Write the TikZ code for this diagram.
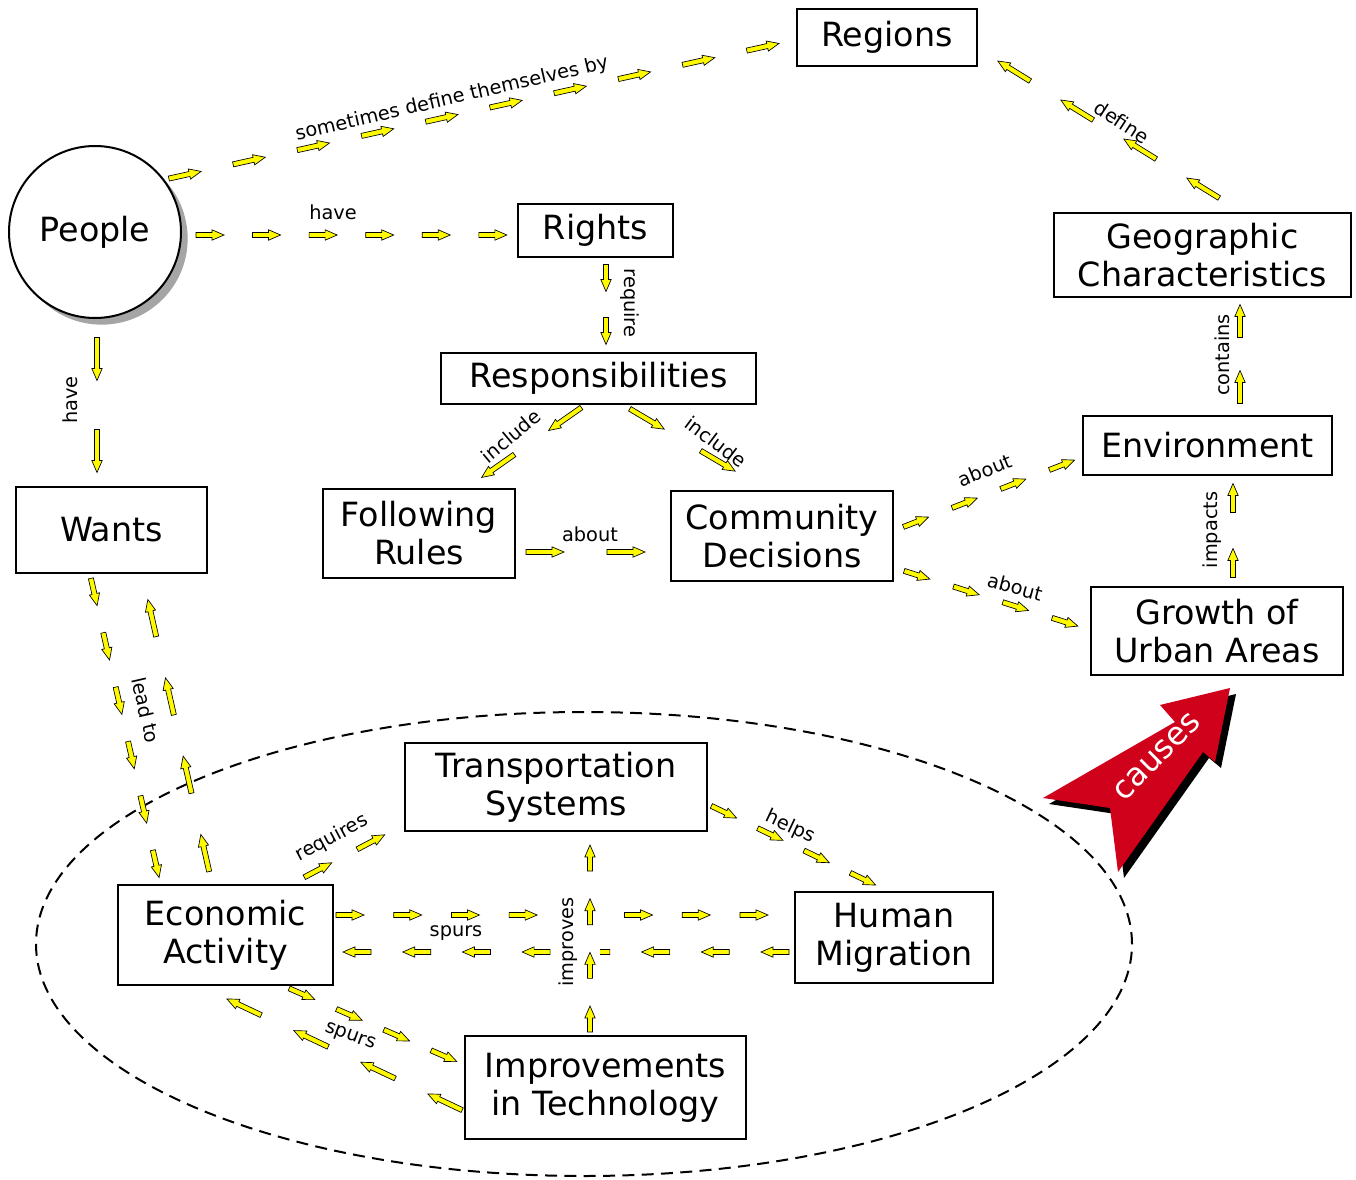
\documentclass[tikz,border=0pt]{standalone}
\usepackage{fontspec}
\setmainfont{DejaVu Sans}
\usetikzlibrary{decorations.markings,calc,shadows}
\definecolor{yel}{RGB}{255,250,0}
\definecolor{causered}{RGB}{208,2,27}
\definecolor{shadowgray}{RGB}{165,165,165}
\newcommand\yglyph[1]{%
  \filldraw[fill=yel,draw=black,line width=0.5pt,line join=miter]
   ({-#1*0.375pt},-1.9pt) -- ({#1*0.375pt-9pt},-1.9pt) -- ({#1*0.375pt-9pt},-3.9pt)
   -- ({#1*0.375pt},0pt) -- ({#1*0.375pt-9pt},3.9pt) -- ({#1*0.375pt-9pt},1.9pt)
   -- ({-#1*0.375pt},1.9pt) -- cycle;}
\tikzset{
  chain/.style 2 args={decoration={markings, mark=between positions 0 and 1 step #1 with {\yglyph{#2}}}, decorate},
  box/.style={draw=black, line width=1.5pt, fill=white, inner sep=0pt, align=center,
    font=\fontsize{25}{28.5}\selectfont},
  sz/.style 2 args={minimum width=#1*0.75pt, minimum height=#2*0.75pt},
  lbl/.style={inner sep=0pt, font=\fontsize{14.5}{16}\selectfont},
}
\begin{document}
\begin{tikzpicture}[x=0.75pt,y=-0.75pt]
\useasboundingbox (0,0) rectangle (1356,1180);
% dashed ellipse
\draw[line width=1.5pt, dash pattern=on 9pt off 5.5pt] (584,944) ellipse [x radius=411pt, y radius=174pt];
% nodes
\node[circle, draw=black, line width=1.5pt, fill=white, minimum size=172*0.75pt, inner sep=0pt,
  font=\fontsize{25}{28.5}\selectfont,
  drop shadow={shadow xshift=5pt, shadow yshift=-5pt, fill=shadowgray, opacity=1}] (People) at (95,232) {People};
\node[box, sz={180}{57}] (Regions) at (887,37.5) {Regions};
\node[box, sz={155}{53}] (Rights) at (595.5,230.5) {Rights};
\node[box, sz={315}{51}] (Resp) at (598.5,378.5) {Responsibilities};
\node[box, sz={297}{84}] (Geo) at (1202.5,255) {Geographic\\Characteristics};
\node[box, sz={249}{59}] (Env) at (1207.5,445.5) {Environment};
\node[box, sz={191}{86}] (Wants) at (111.5,530) {Wants};
\node[box, sz={192}{89}] (FR) at (419,533.5) {Following\\Rules};
\node[box, sz={222}{90}] (CD) at (782,536) {Community\\Decisions};
\node[box, sz={252}{88}] (GUA) at (1217,631) {Growth of\\Urban Areas};
\node[box, sz={302}{88}] (TS) at (556,787) {Transportation\\Systems};
\node[box, sz={215}{100}] (EA) at (225.5,935) {Economic\\Activity};
\node[box, sz={198}{91}] (HM) at (894,937.5) {Human\\Migration};
\node[box, sz={281}{103}] (IT) at (605.5,1087.5) {Improvements\\in Technology};
% connectors
\path[chain={0.1111}{33}] ($(People)+(90,-57)$) -- ($(Regions.west)+(-33,9.5)$);
\node[lbl, rotate=13] (l1) at (452,99) {sometimes define themselves by};
\path[chain={0.1999}{28}] ($(People.east)+(28,3)$) -- ($(Rights.west)+(-24,4.5)$);
\node[lbl] (l2) at (333,212) {have};
\path[chain={0.9999}{43}] ($(People.south)+(2,40)$) -- ($(Wants.north)+(-14.5,-35)$);
\node[lbl, rotate=90] (l3) at (70,400) {have};
\path[chain={0.9999}{27}] ($(Rights.south)+(10.5,20)$) -- ($(Resp.north)+(7.5,-21)$);
\node[lbl, rotate=-90] (l4) at (630,303) {require};
\path[chain={0.9999}{40}] ($(Resp.south)+(-33.5,14)$) -- ($(FR.north)+(79,-22)$);
\node[lbl, rotate=40] (l5) at (511,436) {include};
\path[chain={0.9999}{40}] ($(Resp.south)+(48.5,14)$) -- ($(CD.north)+(-64,-29)$);
\node[lbl, rotate=-37] (l6) at (716,442) {include};
\path[chain={0.9999}{38}] ($(FR.east)+(29,18.5)$) -- ($(CD.west)+(-44,16)$);
\node[lbl] (l7) at (590,534) {about};
\path[chain={0.1999}{28}] ($(Wants.south)+(-17.5,18)$) -- ($(EA.north)+(-69.5,-20)$);
\path[chain={0.3333}{38}] ($(EA.north)+(-20.5,-31)$) -- ($(Wants.south)+(40.5,44)$);
\node[lbl, rotate=-77] (l8) at (146,710) {lead to};
\path[chain={0.9999}{31}] ($(EA.north)+(92.5,-14)$) -- ($(TS.west)+(-33,55)$);
\node[lbl, rotate=28] (l9) at (332,838) {requires};
\path[chain={0.3333}{28}] ($(TS.east)+(16,25)$) -- ($(HM.north)+(-31,-12)$);
\node[lbl, rotate=-25] (l10) at (790,827) {helps};
\path[chain={0.14285}{28}] ($(EA.east)+(16,-20)$) -- ($(HM.west)+(-40,-22.5)$);
\path[chain={0.14285}{28}] ($(HM.west)+(-19,14.5)$) -- ($(EA.east)+(23,17)$);
\node[lbl] (l11) at (456,933) {spurs};
\fill[white] (557,893) rectangle (600,992);
\path[chain={0.3333}{26}] ($(IT.north)+(-15.5,-16)$) -- ($(TS.south)+(34,26)$);
\node[lbl, rotate=90] (l12) at (568,942) {improves};
\path[chain={0.3333}{28}] ($(EA.south)+(76.5,8)$) -- ($(IT.west)+(-20,-31.5)$);
\path[chain={0.3333}{38}] ($(IT.west)+(-19,14.5)$) -- ($(EA.south)+(18.5,21)$);
\node[lbl, rotate=-20] (l13) at (350,1037) {spurs};
\path[chain={0.3333}{27}] ($(CD.east)+(22,-14)$) -- ($(Env.west)+(-20,19.5)$);
\node[lbl, rotate=22] (l14) at (985,470) {about};
\path[chain={0.3333}{27}] ($(CD.east)+(23,39)$) -- ($(GUA.west)+(-25,-9)$);
\node[lbl, rotate=-15] (l15) at (1015,587) {about};
\path[chain={0.9999}{29}] ($(GUA.north)+(16,-23)$) -- ($(Env.south)+(25.5,22)$);
\node[lbl, rotate=90] (l16) at (1212,530) {impacts};
\path[chain={0.9999}{33}] ($(Env.north)+(32.5,-28)$) -- ($(Geo.south)+(37.5,23)$);
\node[lbl, rotate=90] (l17) at (1222,355) {contains};
\path[chain={0.3333}{38}] ($(Geo.north)+(0.5,-24)$) -- ($(Regions.east)+(36,33.5)$);
\node[lbl, rotate=-33] (l18) at (1122,122) {define};
% causes arrow
\fill[black] (1236,694) -- (1221,768) -- (1209,758) -- (1124,878) -- (1116,814) -- (1049,804) -- (1181,728) -- (1166,711) -- cycle;
\fill[causered] (1230,688) -- (1215,762) -- (1203,752) -- (1118,872) -- (1110,808) -- (1043,798) -- (1175,722) -- (1160,705) -- cycle;
\node[inner sep=0pt, text=white, rotate=45, font=\fontsize{24}{26}\selectfont] (causes) at (1157,757) {causes};
\end{tikzpicture}
\end{document}
